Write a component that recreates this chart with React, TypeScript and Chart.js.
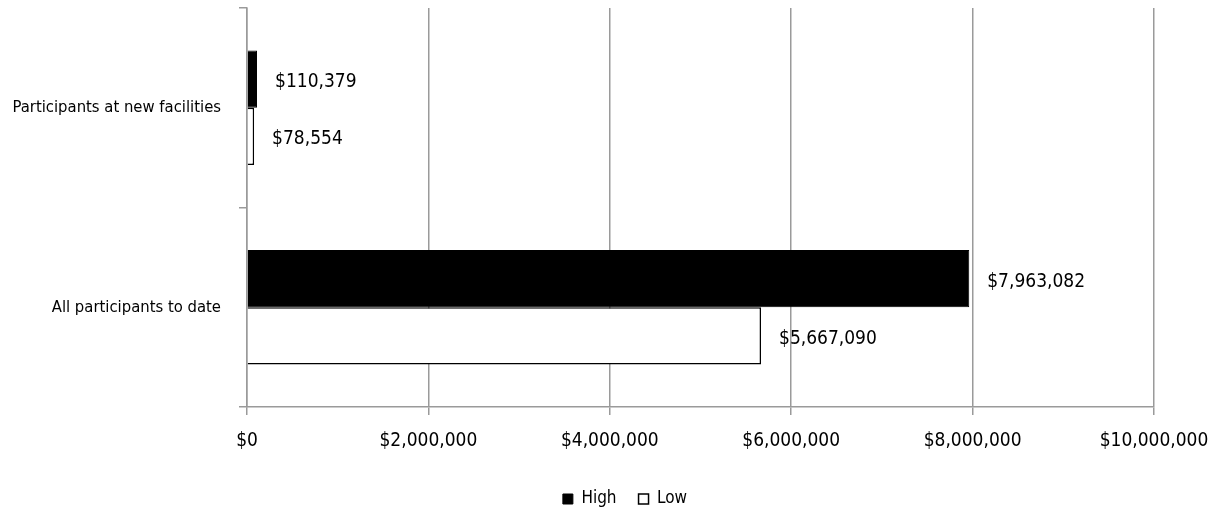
import React, { useEffect, useRef } from "react";
import { Chart, registerables } from "chart.js";

Chart.register(...registerables);

const categories = ["Participants at new facilities", "All participants to date"];
const highValues = [110379, 7963082];
const lowValues = [78554, 5667090];
const seriesNames = ["High", "Low"];
const xTickMax = 10000000;
const xTickStep = 2000000;

const FONT = "'DejaVu Sans Condensed', 'Liberation Sans Narrow', sans-serif";
const CAT_SIZE = 16.5;
const NUM_SIZE = 19;
const LEGEND_SIZE = 17;
const LEGEND_HEIGHT = 41.5;
const LEGEND_SHIFT = 48;

const fmt = (v: number) => "$" + Number(v).toLocaleString("en-US");

const valueLabels = {
  id: "valueLabels",
  afterDatasetsDraw(chart: any) {
    const ctx = chart.ctx;
    ctx.save();
    ctx.font = `${NUM_SIZE}px ${FONT}`;
    ctx.fillStyle = "#000";
    ctx.textAlign = "left";
    ctx.textBaseline = "middle";
    chart.data.datasets.forEach((ds: any, di: number) => {
      const meta = chart.getDatasetMeta(di);
      meta.data.forEach((el: any, i: number) => {
        ctx.fillText(fmt(ds.data[i]), el.x + 18, el.y + 3);
      });
    });
    ctx.restore();
  },
};

const legendFit = {
  id: "legendFit",
  beforeLayout(chart: any) {
    const lg = chart.legend;
    if (lg && !lg.__patched) {
      const orig = lg.fit;
      lg.fit = function () {
        orig.call(this);
        this.height = LEGEND_HEIGHT;
      };
      lg.__patched = true;
    }
  },
  afterLayout(chart: any) {
    const lg = chart.legend;
    if (lg) {
      lg.left += LEGEND_SHIFT;
      lg.right += LEGEND_SHIFT;
    }
  },
};

export default function App() {
  const ref = useRef<HTMLCanvasElement>(null);
  useEffect(() => {
    if (!ref.current) return;
    const chart = new Chart(ref.current, {
      type: "bar",
      data: {
        labels: categories,
        datasets: [
          {
            label: seriesNames[0],
            data: highValues,
            backgroundColor: "#000000",
            borderColor: "#000000",
            borderWidth: 1,
            barPercentage: 1,
            categoryPercentage: 0.575,
          },
          {
            label: seriesNames[1],
            data: lowValues,
            backgroundColor: "#ffffff",
            borderColor: "#000000",
            borderWidth: 1.5,
            barPercentage: 1,
            categoryPercentage: 0.575,
          },
        ],
      },
      options: {
        indexAxis: "y",
        animation: false,
        responsive: false,
        maintainAspectRatio: false,
        layout: { padding: { top: 8, right: 63, left: 0, bottom: 0 } },
        plugins: {
          tooltip: { enabled: false },
          legend: {
            position: "bottom",
            labels: {
              boxWidth: 10,
              boxHeight: 10,
              padding: 22,
              color: "#000",
              font: { family: FONT, size: LEGEND_SIZE },
            },
          },
        },
        scales: {
          x: {
            min: 0,
            max: xTickMax,
            ticks: {
              stepSize: xTickStep,
              color: "#000",
              padding: 15,
              maxRotation: 0,
              font: { family: FONT, size: NUM_SIZE },
              callback: (v: any) => fmt(v),
            },
            grid: {
              color: "#9a9a9a",
              lineWidth: 1.5,
              tickLength: 8,
              drawTicks: true,
            },
            border: { color: "#9a9a9a", width: 1.5 },
            afterFit: (s: any) => {
              s.height = 61.5;
              s.paddingLeft = 0;
              s.paddingRight = 0;
            },
          },
          y: {
            ticks: {
              color: "#000",
              padding: 18,
              font: { family: FONT, size: CAT_SIZE },
            },
            grid: {
              offset: true,
              drawOnChartArea: false,
              drawTicks: true,
              tickLength: 8,
              color: "#9a9a9a",
              lineWidth: 1.5,
            },
            border: { color: "#9a9a9a", width: 1.5 },
            afterFit: (s: any) => {
              s.width = 247;
              s.paddingTop = 0;
              s.paddingBottom = 0;
            },
          },
        },
      },
      plugins: [valueLabels, legendFit],
    });
    return () => chart.destroy();
  }, []);
  return (
    <div style={{ position: "fixed", left: 0, top: 0, width: 1217, height: 510, background: "#fff" }}>
      <canvas ref={ref} width={1217} height={510} style={{ width: 1217, height: 510 }} />
    </div>
  );
}
